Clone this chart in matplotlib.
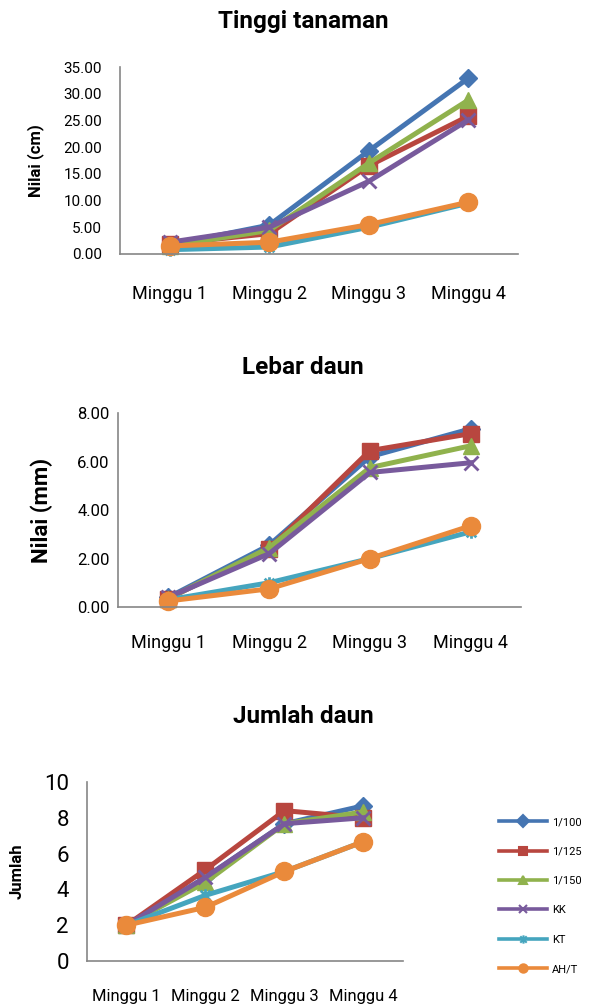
import matplotlib.pyplot as plt
from matplotlib.lines import Line2D
from matplotlib.path import Path

plt.rcParams.update({
    'font.family': ['Roboto', 'DejaVu Sans'],
    'axes.edgecolor': '#868686',
    'axes.linewidth': 1.2,
    'text.color': '#000000',
})

weeks = ['Minggu 1', 'Minggu 2', 'Minggu 3', 'Minggu 4']
series_names = ['1/100', '1/125', '1/150', 'KK', 'KT', 'AH/T']

# plant height (cm)
tinggi = {
    '1/100': [1.7, 5.4, 19.3, 32.9],
    '1/125': [1.9, 3.8, 16.5, 25.8],
    '1/150': [1.5, 4.4, 17.0, 28.8],
    'KK':    [2.2, 5.0, 13.6, 25.1],
    'KT':    [0.8, 1.3, 5.0, 9.5],
    'AH/T':  [1.5, 2.2, 5.5, 9.7],
}

# leaf width (mm)
lebar = {
    '1/100': [0.40, 2.55, 6.20, 7.35],
    '1/125': [0.35, 2.40, 6.45, 7.15],
    '1/150': [0.35, 2.45, 5.75, 6.65],
    'KK':    [0.40, 2.20, 5.55, 5.95],
    'KT':    [0.30, 1.00, 2.00, 3.10],
    'AH/T':  [0.25, 0.75, 2.00, 3.35],
}

# leaf count
jumlah = {
    '1/100': [2.0, 4.67, 7.67, 8.67],
    '1/125': [2.0, 5.1, 8.4, 8.0],
    '1/150': [2.0, 4.4, 7.67, 8.33],
    'KK':    [2.0, 4.67, 7.67, 8.0],
    'KT':    [2.0, 3.67, 5.0, 6.67],
    'AH/T':  [2.0, 3.0, 5.0, 6.67],
}

colors = ['#4575b2', '#b8463f', '#90b24d', '#785a9c', '#45a5be', '#ea8a3b']

# asterisk marker (x plus vertical bar)
star = Path([(-1, -1), (1, 1), (-1, 1), (1, -1), (0, -1.3), (0, 1.3)],
            [Path.MOVETO, Path.LINETO, Path.MOVETO, Path.LINETO, Path.MOVETO, Path.LINETO])
markers = ['D', 's', '^', 'x', star, 'o']
msizes = [9, 11, 11, 10, 9, 13]

fig = plt.figure(figsize=(5.89, 10.05), dpi=100)


def draw(ax, data, ymax, ystep, fmt, tick_fs, xtick_fs, ypad, xpad):
    xs = range(len(weeks))
    for name, c, m, ms in zip(series_names, colors, markers, msizes):
        thin = m == 'x' or m is star
        ax.plot(xs, data[name], color=c, lw=3.6, marker=m, markersize=ms,
                markeredgecolor=c, markeredgewidth=2 if thin else 1,
                markerfacecolor=c, clip_on=False)
    ax.set_xlim(-0.5, len(weeks) - 0.5)
    ax.set_ylim(0, ymax)
    ticks = [i * ystep for i in range(int(round(ymax / ystep)) + 1)]
    ax.set_yticks(ticks)
    ax.set_yticklabels([fmt.format(t) for t in ticks], fontsize=tick_fs)
    ax.set_xticks(list(xs))
    ax.set_xticklabels(weeks, fontsize=xtick_fs)
    ax.tick_params(length=0)
    ax.tick_params(axis='y', pad=ypad)
    ax.tick_params(axis='x', pad=xpad)
    ax.spines['top'].set_visible(False)
    ax.spines['right'].set_visible(False)


ax1 = fig.add_axes([0.2037, 0.7473, 0.6758, 0.186])
draw(ax1, tinggi, 35, 5, '{:.2f}', 11, 13, 13, 22)
fig.text(0.515, 0.979, 'Tinggi tanaman', ha='center', va='center', fontsize=17.5, fontweight='bold')
fig.text(0.060, 0.840, 'Nilai (cm)', rotation=90, ha='center', va='center', fontsize=12, fontweight='bold')

ax2 = fig.add_axes([0.2003, 0.396, 0.6843, 0.193])
draw(ax2, lebar, 8, 2, '{:.2f}', 12, 13, 6, 19.5)
fig.text(0.515, 0.634, 'Lebar daun', ha='center', va='center', fontsize=17.5, fontweight='bold')
fig.text(0.071, 0.492, 'Nilai (mm)', rotation=90, ha='center', va='center', fontsize=16, fontweight='bold')

ax3 = fig.add_axes([0.1477, 0.0438, 0.5365, 0.1781])
draw(ax3, jumlah, 10, 2, '{:.0f}', 16, 12, 13, 20)
fig.text(0.515, 0.287, 'Jumlah daun', ha='center', va='center', fontsize=17.5, fontweight='bold')
fig.text(0.029, 0.133, 'Jumlah', rotation=90, ha='center', va='center', fontsize=12, fontweight='bold')

handles = [Line2D([], [], color=c, lw=2.6, marker=m, markersize=6,
                  markeredgecolor=c, markeredgewidth=1.5, markerfacecolor=c)
           for c, m in zip(colors, markers)]
fig.legend(handles, series_names, loc='upper left', bbox_to_anchor=(0.83, 0.197),
           frameon=False, fontsize=8, handlelength=4.3, labelspacing=1.75,
           handletextpad=0.5)

fig.savefig('out.png', dpi=100, facecolor='white')
